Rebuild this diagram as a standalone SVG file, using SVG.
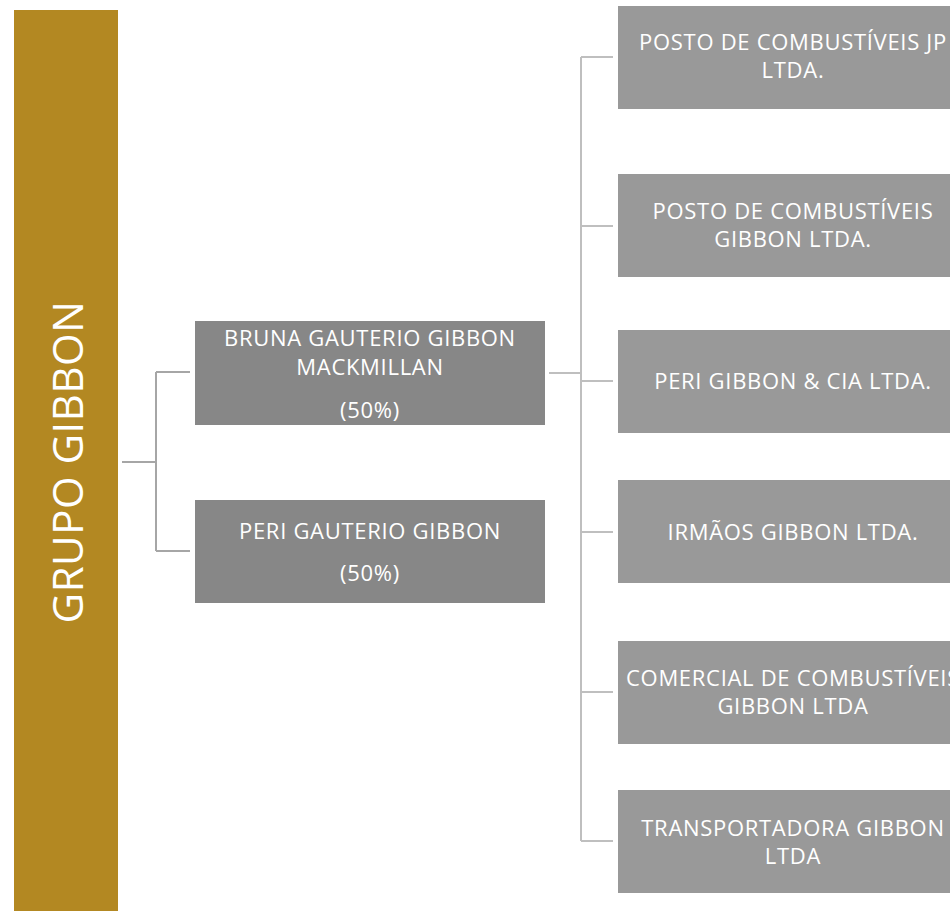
<svg xmlns="http://www.w3.org/2000/svg" width="950" height="911" viewBox="0 0 950 911">
<style>
.t{font-family:"Open Sans","Liberation Sans",sans-serif;font-size:22px;letter-spacing:0.7px;fill:#ffffff;text-anchor:middle}
.mid{fill:#878787}
.leaf{fill:#999999}
.c{stroke:#A6A6A6;stroke-width:2;fill:none}
.c2{stroke:#BFBFBF;stroke-width:2;fill:none}
</style>
<rect width="950" height="911" fill="#ffffff"/>
<g id="grupo">
<rect x="14" y="10" width="104" height="901" fill="#B38822"/>
<text transform="translate(83,462) rotate(-90)" font-family="Open Sans, Liberation Sans, sans-serif" font-size="42" letter-spacing="0.5" fill="#ffffff" text-anchor="middle">GRUPO GIBBON</text>
</g>
<g id="connectors">
<path class="c" d="M122 462H156M156 372V551M156 372H190M156 551H190"/>
<path class="c2" d="M549 373H581M581 57V841M581 57H613M581 226H613M581 381H613M581 532H613M581 692H613M581 841H613"/>
</g>
<g id="bruna">
<rect class="mid" x="195" y="321" width="350" height="104"/>
<text class="t" x="370" y="346">BRUNA GAUTERIO GIBBON</text>
<text class="t" x="370" y="375">MACKMILLAN</text>
<text class="t" x="370" y="418">(50%)</text>
</g>
<g id="peri">
<rect class="mid" x="195" y="500" width="350" height="103"/>
<text class="t" x="370" y="539">PERI GAUTERIO GIBBON</text>
<text class="t" x="370" y="581">(50%)</text>
</g>
<g id="posto-jp">
<rect class="leaf" x="618" y="6" width="350" height="103"/>
<text class="t" x="793" y="50">POSTO DE COMBUSTÍVEIS JP</text>
<text class="t" x="793" y="78">LTDA.</text>
</g>
<g id="posto-gibbon">
<rect class="leaf" x="618" y="174" width="350" height="103"/>
<text class="t" x="793" y="219">POSTO DE COMBUSTÍVEIS</text>
<text class="t" x="793" y="247">GIBBON LTDA.</text>
</g>
<g id="peri-cia">
<rect class="leaf" x="618" y="330" width="350" height="103"/>
<text class="t" x="793" y="389">PERI GIBBON &amp; CIA LTDA.</text>
</g>
<g id="irmaos">
<rect class="leaf" x="618" y="480" width="350" height="103"/>
<text class="t" x="793" y="540">IRMÃOS GIBBON LTDA.</text>
</g>
<g id="comercial">
<rect class="leaf" x="618" y="641" width="350" height="103"/>
<text class="t" x="793" y="686">COMERCIAL DE COMBUSTÍVEIS</text>
<text class="t" x="793" y="714">GIBBON LTDA</text>
</g>
<g id="transportadora">
<rect class="leaf" x="618" y="790" width="350" height="103"/>
<text class="t" x="793" y="836">TRANSPORTADORA GIBBON</text>
<text class="t" x="793" y="864">LTDA</text>
</g>
</svg>
